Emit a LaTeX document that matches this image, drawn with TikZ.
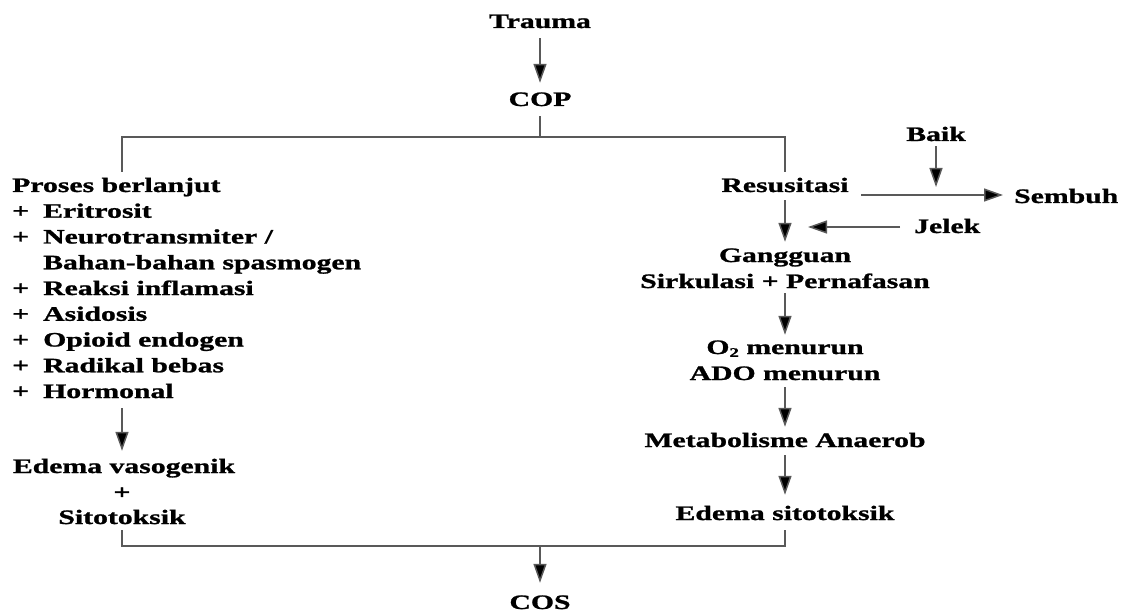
\documentclass[tikz,border=0pt]{standalone}
\usepackage{fontspec}
\setmainfont{Liberation Serif}[FakeStretch=1.45, FakeBold=1.2]
\usetikzlibrary{arrows.meta}
\newcommand\pl{\makebox[31pt][l]{+}}
\begin{document}
\begin{tikzpicture}[x=1pt,y=-1pt,
  txt/.style={inner sep=0pt, anchor=base, font=\bfseries\fontsize{20.5}{24}\selectfont, text height=14pt, text depth=0pt},
  ltxt/.style={txt, anchor=base west},
  ln/.style={draw=black!65, line width=1.5pt},
  arr/.style={ln, -{Triangle[width=13pt,length=19pt,fill=black]}}]
\useasboundingbox (0,0) rectangle (1126,612);
% top
\node[txt] (trauma) at (540,28) {Trauma};
\node[txt] (cop) at (540,106) {COP};
% left column
\node[ltxt] (proses) at (12,192) {Proses berlanjut};
\node[ltxt] (l1) at (12,217.75) {\pl Eritrosit};
\node[ltxt] (l2) at (12,243.5) {\pl Neurotransmiter /};
\node[ltxt] (l3) at (12,269.25) {\hspace*{31pt}Bahan-bahan spasmogen};
\node[ltxt] (l4) at (12,295) {\pl Reaksi inflamasi};
\node[ltxt] (l5) at (12,320.75) {\pl Asidosis};
\node[ltxt] (l6) at (12,346.5) {\pl Opioid endogen};
\node[ltxt] (l7) at (12,372.25) {\pl Radikal bebas};
\node[ltxt] (l8) at (12,398) {\pl Hormonal};
\node[txt] (edv) at (124,473) {Edema vasogenik};
\node[txt] (plus) at (122,499) {+};
\node[txt] (sito) at (122,524) {Sitotoksik};
% right column
\node[txt] (resus) at (785,192) {Resusitasi};
\node[txt] (baik) at (936,141) {Baik};
\node[ltxt] (sembuh) at (1014,203) {Sembuh};
\node[ltxt] (jelek) at (914,233) {Jelek};
\node[txt] (gang) at (785,262) {Gangguan};
\node[txt] (sirk) at (785,288) {Sirkulasi + Pernafasan};
\node[txt] (o2) at (785,354) {O\raisebox{-0.3ex}{\fontsize{13}{13}\selectfont 2} menurun};
\node[txt] (ado) at (785,380) {ADO menurun};
\node[txt] (meta) at (785,447) {Metabolisme Anaerob};
\node[txt] (edsit) at (785,520) {Edema sitotoksik};
% bottom
\node[txt] (cos) at (540,609) {COS};
% coordinates
\coordinate (split) at (540,137);
\coordinate (lt) at (122,172);
\coordinate (hs) at (861,195);
\coordinate (jt) at (808,227);
\coordinate (hstart) at (122,408);
\coordinate (join) at (540,546);
% connectors
\draw[arr, shorten <=10pt, shorten >=9pt] (trauma.south) -- (cop.north);
\draw[ln, shorten <=10pt] (cop.south) -- (split);
\draw[ln, shorten >=6pt] (lt) |- (split) -| (resus.north);
\draw[arr, shorten >=11pt] (hs) -- (sembuh.west |- hs);
\draw[arr, shorten <=5pt, shorten >=8pt] (baik.south) -- (baik.south |- hs);
\draw[arr, shorten <=14pt] (jelek.west |- jt) -- (jt);
\draw[arr, shorten <=8pt, shorten >=6pt] (resus.south) -- (gang.north);
\draw[arr, shorten <=5pt, shorten >=5pt] (sirk.south) -- (o2.north);
\draw[arr, shorten <=7pt, shorten >=6pt] (ado.south) -- (meta.north);
\draw[arr, shorten <=8pt, shorten >=11pt] (meta.south) -- (edsit.north);
\draw[arr, shorten >=8pt] (hstart) -- (hstart |- edv.north);
\draw[ln, shorten <=6pt, shorten >=10pt] (sito.south) |- (join) -| (edsit.south);
\draw[arr, shorten >=12pt] (join) -- (cos.north);
\end{tikzpicture}
\end{document}
